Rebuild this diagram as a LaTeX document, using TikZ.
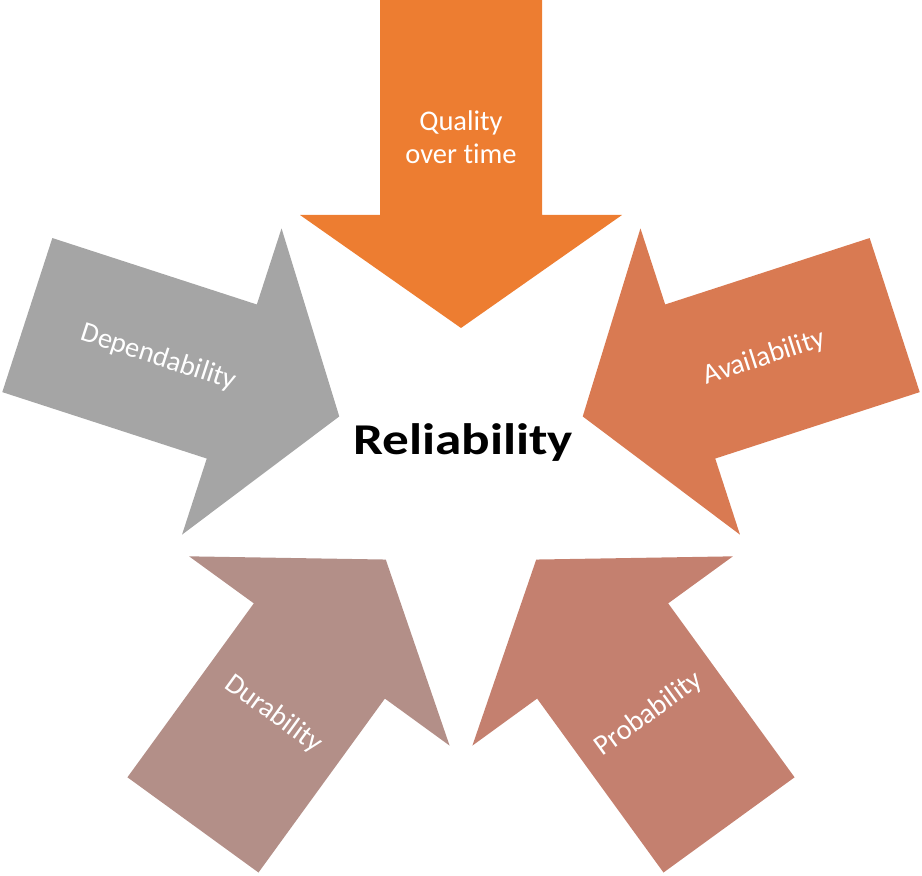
\documentclass[tikz,border=0pt]{standalone}
\usepackage{fontspec}
\setmainfont{Carlito}[Ligatures=NoCommon]
\usetikzlibrary{calc}
\definecolor{cTop}{HTML}{ED7D31}
\definecolor{cAvail}{HTML}{D97A52}
\definecolor{cDep}{HTML}{A5A5A5}
\definecolor{cDur}{HTML}{B38F88}
\definecolor{cProb}{HTML}{C4806F}
\begin{document}
\begin{tikzpicture}[x=1pt,y=1pt,
  bigarrow/.style={fill=#1,draw=none},
  lbl/.style={text=white,font=\fontsize{28.5}{33}\selectfont,align=center,inner sep=0pt}]
\useasboundingbox (0,0) rectangle (922,876);
\coordinate (c) at (461,420);
\foreach \ang/\col in {0/cTop,-72/cAvail,72/cDep,144/cDur,-144/cProb}{
  \begin{scope}[shift={(c)},rotate=\ang]
    \fill[bigarrow=\col] (-81,456) -- (81,456) -- (81,241) -- (161,241) -- (0,128) -- (-161,241) -- (-81,241) -- cycle;
  \end{scope}
}
\node[lbl] (quality) at ($(c)+(90:319)$) {Quality\\over time};
\node[lbl,rotate=18] (avail) at ($(c)+(18:319)$) {Availability};
\node[lbl,rotate=-18] (dep) at ($(c)+(162:318)$) {Dependability};
\node[lbl,rotate=-36] (dur) at ($(c)+(234:319)$) {Durability};
\node[lbl,rotate=36] (prob) at ($(c)+(306:319)$) {Probability};
\node[font=\fontsize{44}{52}\selectfont\bfseries,inner sep=0pt,xscale=1.21] (rel) at (463,433) {Reliability};
\end{tikzpicture}
\end{document}
